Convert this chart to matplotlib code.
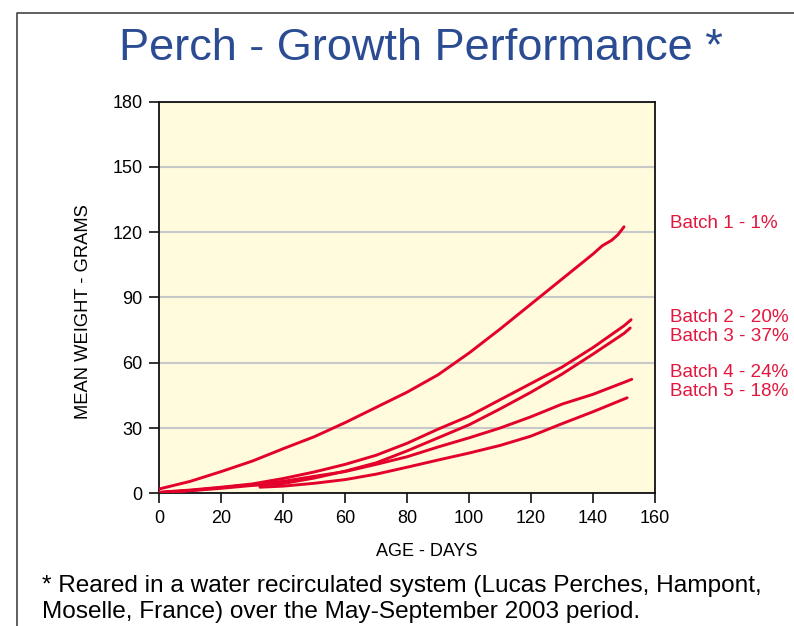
import matplotlib
matplotlib.use("Agg")
import matplotlib.pyplot as plt
from matplotlib.lines import Line2D
from matplotlib.transforms import blended_transform_factory

# ---- data ----
days_b1 = [0, 10, 20, 30, 40, 50, 60, 70, 80, 90, 100, 110, 120, 130, 140, 143, 146, 148, 150]
wt_b1 = [2.0, 5.5, 10.0, 14.8, 20.5, 26.0, 32.5, 39.5, 46.5, 54.5, 64.5, 75.5, 87.0, 98.5, 110.0, 113.8, 116.3, 118.8, 122.5]

days_b2 = [0, 10, 20, 30, 40, 50, 60, 70, 80, 90, 100, 110, 120, 130, 140, 150, 152.3]
wt_b2 = [0.5, 1.5, 2.8, 4.3, 6.8, 9.8, 13.3, 17.5, 23.0, 29.5, 35.5, 43.0, 50.5, 58.0, 67.0, 77.0, 79.8]

days_b3 = [0, 10, 20, 30, 40, 50, 60, 70, 80, 90, 100, 110, 120, 130, 140, 150, 152]
wt_b3 = [0.3, 1.2, 2.3, 3.6, 4.5, 7.0, 10.2, 14.0, 19.5, 25.5, 31.5, 38.8, 46.5, 54.8, 64.0, 73.5, 76.0]

days_b4 = [0, 10, 20, 30, 40, 50, 60, 70, 80, 90, 100, 110, 120, 130, 140, 150, 152.5]
wt_b4 = [0.3, 1.3, 2.6, 4.0, 5.5, 7.8, 10.0, 13.3, 16.8, 21.3, 25.5, 30.0, 35.2, 41.0, 45.5, 51.0, 52.4]

days_b5 = [32.5, 40, 50, 60, 70, 80, 90, 100, 110, 120, 130, 140, 151]
wt_b5 = [2.8, 3.3, 4.6, 6.3, 8.8, 12.0, 15.3, 18.5, 22.0, 26.3, 32.0, 37.5, 43.9]

batch_labels = ["Batch 1 - 1%", "Batch 2 - 20%", "Batch 3 - 37%", "Batch 4 - 24%", "Batch 5 - 18%"]
label_levels = [123.8, 80.6, 72.3, 55.3, 46.6]

x_ticks = [0, 20, 40, 60, 80, 100, 120, 140, 160]
y_ticks = [0, 30, 60, 90, 120, 150, 180]

title = "Perch - Growth Performance *"
x_label = "AGE - DAYS"
y_label = "MEAN WEIGHT - GRAMS"
foot1 = "* Reared in a water recirculated system (Lucas Perches, Hampont,"
foot2 = "Moselle, France) over the May-September 2003 period."

# ---- style ----
plt.rcParams['font.family'] = ['Liberation Sans', 'DejaVu Sans']
RED = "#e3002b"
LABEL_RED = "#e3173e"
BLUE = "#2b4c93"

fig = plt.figure(figsize=(7.94, 6.26), dpi=100)
ax = fig.add_axes([159.3 / 794, 1 - 493.3 / 626, (655 - 159.3) / 794, (493.3 - 101.7) / 626])
ax.set_facecolor("#fffbdc")

for d, w in [(days_b1, wt_b1), (days_b2, wt_b2), (days_b3, wt_b3), (days_b4, wt_b4), (days_b5, wt_b5)]:
    ax.plot(d, w, color=RED, lw=2.1, solid_capstyle='round', solid_joinstyle='round', zorder=3)

ax.set_xlim(0, 160)
ax.set_ylim(0, 180)
ax.set_xticks(x_ticks)
ax.set_yticks(y_ticks)
ax.yaxis.grid(True, color="#c8c8c8", lw=1.5)
ax.set_axisbelow(True)
for s in ax.spines.values():
    s.set_linewidth(1.3)
    s.set_color("#111111")
ax.tick_params(direction='out', length=7, width=1.2, labelsize=13, pad=5, color="#111111")

fig.text(427 / 794, 1 - 551 / 626, x_label, fontsize=13, ha='center', va='center')
fig.text(84 / 794, 1 - 312 / 626, y_label, fontsize=13.2, ha='center', va='center', rotation=90)

tr = blended_transform_factory(fig.transFigure, ax.transData)
for lab, lv in zip(batch_labels, label_levels):
    ax.text(670.5 / 794, lv, lab, transform=tr, color=LABEL_RED, fontsize=13.6,
            ha='left', va='center', clip_on=False)

fig.text(421 / 794, 1 - 60 / 626, title, color=BLUE, fontsize=32.5, ha='center', va='baseline')
fig.text(42 / 794, 1 - 592 / 626, foot1, fontsize=17.6, ha='left', va='baseline')
fig.text(42 / 794, 1 - 618 / 626, foot2, fontsize=17.6, ha='left', va='baseline')

# page frame
fx = 17.3 / 794
fy = 1 - 12.7 / 626
fig.add_artist(Line2D([fx, fx, 1.0], [0.0, fy, fy], transform=fig.transFigure,
                      color="#444444", lw=1.2))

fig.savefig("out.png", dpi=100)
